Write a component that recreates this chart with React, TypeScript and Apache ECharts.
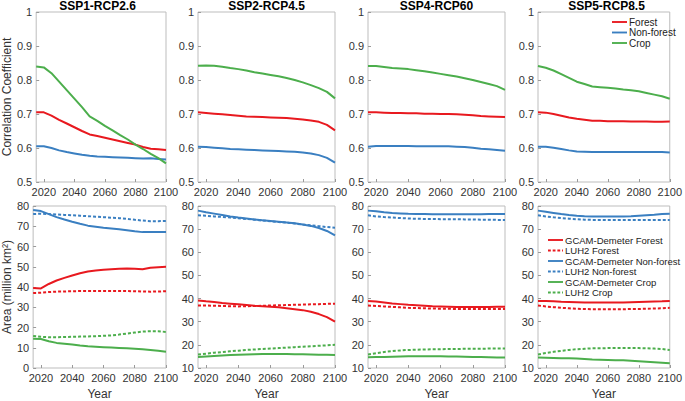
import React, { useEffect, useRef } from "react";
import * as echarts from "echarts";

const years = [2015, 2020, 2025, 2030, 2035, 2040, 2045, 2050, 2055, 2060, 2065, 2070, 2075, 2080, 2085, 2090, 2095, 2100];
const scenarios = ["SSP1-RCP2.6", "SSP2-RCP4.5", "SSP4-RCP60", "SSP5-RCP8.5"];
const corrNames = ["Forest", "Non-forest", "Crop"];
const areaNames = ["GCAM-Demeter Forest", "LUH2 Forest", "GCAM-Demeter Non-forest", "LUH2 Non-forest", "GCAM-Demeter Crop", "LUH2 Crop"];
const xTicks = [2020, 2040, 2060, 2080, 2100];

// Correlation coefficients [scenario][forest, non-forest, crop]
const corrSSP1 = [
  [0.705, 0.705, 0.695, 0.683, 0.672, 0.661, 0.65, 0.64, 0.635, 0.63, 0.625, 0.62, 0.615, 0.61, 0.603, 0.598, 0.596, 0.594],
  [0.605, 0.605, 0.6, 0.593, 0.588, 0.584, 0.58, 0.577, 0.575, 0.574, 0.573, 0.572, 0.571, 0.57, 0.569, 0.57, 0.568, 0.566],
  [0.84, 0.837, 0.82, 0.795, 0.77, 0.745, 0.72, 0.693, 0.68, 0.665, 0.652, 0.638, 0.625, 0.61, 0.597, 0.583, 0.57, 0.555],
];
const corrSSP2 = [
  [0.705, 0.703, 0.701, 0.699, 0.697, 0.695, 0.693, 0.692, 0.691, 0.69, 0.689, 0.688, 0.686, 0.684, 0.681, 0.677, 0.668, 0.652],
  [0.604, 0.603, 0.601, 0.599, 0.597, 0.596, 0.595, 0.594, 0.593, 0.592, 0.591, 0.59, 0.589, 0.587, 0.584, 0.579, 0.571, 0.557],
  [0.842, 0.843, 0.842, 0.839, 0.835, 0.832, 0.828, 0.823, 0.819, 0.815, 0.811, 0.806, 0.8, 0.793, 0.785, 0.776, 0.765, 0.746],
];
const corrSSP4 = [
  [0.705, 0.705, 0.704, 0.703, 0.703, 0.702, 0.702, 0.701, 0.701, 0.7, 0.7, 0.699, 0.698, 0.696, 0.694, 0.693, 0.692, 0.691],
  [0.604, 0.606, 0.606, 0.606, 0.606, 0.606, 0.605, 0.605, 0.605, 0.605, 0.605, 0.604, 0.603, 0.601, 0.598, 0.596, 0.594, 0.592],
  [0.841, 0.841, 0.838, 0.835, 0.834, 0.832, 0.829, 0.826, 0.822, 0.818, 0.814, 0.81, 0.805, 0.8, 0.794, 0.788, 0.782, 0.771],
];
const corrSSP5 = [
  [0.705, 0.704, 0.7, 0.695, 0.69, 0.686, 0.683, 0.68, 0.68, 0.679, 0.679, 0.679, 0.678, 0.678, 0.678, 0.677, 0.677, 0.678],
  [0.604, 0.604, 0.601, 0.597, 0.593, 0.59, 0.589, 0.588, 0.588, 0.588, 0.588, 0.588, 0.588, 0.588, 0.588, 0.588, 0.588, 0.587],
  [0.841, 0.836, 0.828, 0.817, 0.806, 0.795, 0.788, 0.781, 0.779, 0.777, 0.775, 0.772, 0.77, 0.767, 0.762, 0.757, 0.752, 0.745],
];

// Areas (million km2) [GCAM forest, LUH2 forest, GCAM non-forest, LUH2 non-forest, GCAM crop, LUH2 crop]
const areaSSP1 = [
  [39.5, 39.3, 41.5, 43.2, 44.5, 45.7, 46.8, 47.7, 48.2, 48.5, 48.8, 49, 49.1, 49, 48.8, 49.5, 49.8, 50],
  [37, 37.2, 37.5, 37.7, 37.8, 37.9, 38, 38, 38, 38, 38, 38, 38, 37.9, 37.8, 37.7, 37.8, 37.9],
  [78, 77.5, 76, 74.5, 73.3, 72.2, 71.2, 70.3, 69.8, 69.3, 68.9, 68.5, 68, 67.5, 67.1, 67.2, 67.2, 67.2],
  [76, 76.2, 76, 75.8, 75.6, 75.4, 75.2, 75, 74.7, 74.5, 74.2, 74, 73.6, 73.2, 72.8, 72.5, 72.5, 72.6],
  [14.5, 14.3, 13.2, 12.4, 12, 11.6, 11.1, 10.7, 10.5, 10.3, 10.1, 9.9, 9.7, 9.5, 9.2, 8.9, 8.5, 8.0],
  [15.8, 15.4, 15.2, 15.2, 15.3, 15.4, 15.5, 15.6, 15.7, 15.9, 16.1, 16.5, 17, 17.5, 18, 18.2, 18.2, 17.8],
];
const areaSSP2 = [
  [39.2, 38.8, 38.5, 38.1, 37.8, 37.5, 37.2, 36.9, 36.7, 36.5, 36.2, 35.8, 35.4, 35, 34.3, 33.3, 32, 30],
  [37, 37, 36.9, 36.8, 36.7, 36.6, 36.7, 36.8, 36.9, 37, 37.1, 37.2, 37.3, 37.4, 37.5, 37.6, 37.7, 37.8],
  [78, 77.3, 76.7, 76.1, 75.5, 75, 74.6, 74.2, 73.8, 73.5, 73.2, 72.9, 72.5, 72, 71.4, 70.5, 69.2, 67.3],
  [76, 75.8, 75.5, 75.3, 75, 74.7, 74.4, 74.1, 73.7, 73.4, 73.1, 72.8, 72.4, 72, 71.7, 71.3, 70.9, 70.6],
  [14.8, 15, 15.2, 15.4, 15.6, 15.7, 15.8, 15.9, 16, 16, 16, 16, 15.9, 15.9, 15.8, 15.7, 15.7, 15.6],
  [15.8, 16.2, 16.6, 16.9, 17.2, 17.5, 17.8, 18, 18.2, 18.4, 18.6, 18.8, 19, 19.2, 19.4, 19.6, 19.8, 20],
];
const areaSSP4 = [
  [39, 38.7, 38.3, 37.9, 37.6, 37.3, 37.1, 36.9, 36.7, 36.6, 36.5, 36.4, 36.4, 36.4, 36.4, 36.4, 36.5, 36.5],
  [37, 36.8, 36.6, 36.4, 36.2, 36, 35.9, 35.8, 35.7, 35.6, 35.6, 35.5, 35.5, 35.5, 35.5, 35.5, 35.5, 35.5],
  [78, 77.7, 77.3, 77, 76.8, 76.6, 76.5, 76.5, 76.4, 76.4, 76.4, 76.4, 76.4, 76.4, 76.4, 76.5, 76.5, 76.5],
  [76, 75.5, 75.2, 75, 74.8, 74.6, 74.5, 74.4, 74.4, 74.3, 74.3, 74.3, 74.2, 74.2, 74.1, 74.1, 74, 74],
  [14.6, 14.7, 14.8, 14.9, 15, 15.1, 15.1, 15.1, 15.1, 15.1, 15, 15, 14.9, 14.8, 14.7, 14.6, 14.5, 14.5],
  [15.8, 16.4, 16.9, 17.3, 17.6, 17.8, 17.9, 18, 18.1, 18.1, 18.2, 18.2, 18.3, 18.3, 18.3, 18.4, 18.4, 18.4],
];
const areaSSP5 = [
  [39, 38.9, 38.8, 38.6, 38.5, 38.4, 38.3, 38.3, 38.3, 38.3, 38.3, 38.3, 38.4, 38.5, 38.6, 38.7, 38.8, 39],
  [37, 36.6, 36.3, 36, 35.8, 35.6, 35.5, 35.4, 35.4, 35.4, 35.4, 35.4, 35.5, 35.5, 35.6, 35.7, 35.8, 36],
  [78, 77.5, 77, 76.5, 76.1, 75.8, 75.6, 75.5, 75.5, 75.5, 75.5, 75.5, 75.6, 75.8, 76, 76.2, 76.5, 76.7],
  [76, 75.5, 75.1, 74.8, 74.5, 74.3, 74.1, 74, 74, 73.9, 73.9, 73.9, 73.9, 73.9, 73.9, 74, 74, 74],
  [14.5, 14.4, 14.3, 14.2, 14.2, 14.1, 13.9, 13.7, 13.6, 13.5, 13.4, 13.3, 13.1, 12.9, 12.7, 12.5, 12.3, 12.1],
  [15.8, 16.5, 17, 17.4, 17.8, 18.1, 18.3, 18.5, 18.5, 18.6, 18.6, 18.6, 18.6, 18.6, 18.5, 18.4, 18.2, 17.8],
];

const corrData = [corrSSP1, corrSSP2, corrSSP4, corrSSP5];
const areaData = [areaSSP1, areaSSP2, areaSSP4, areaSSP5];
const areaMins = [0, 10, 10, 10];

const RED = "#e8191f";
const BLUE = "#3a7fc1";
const GREEN = "#4cae4c";
const corrColors = [RED, BLUE, GREEN];
const areaColors = [RED, RED, BLUE, BLUE, GREEN, GREEN];
const FONT = "'Liberation Sans', Arial, Helvetica, sans-serif";

const colLefts = [29, 198, 368, 538];
const colWidth = 137;

const SOLID_ICON = "path://M0,0h16v2h-16z";
const DOTTED_ICON = "path://M0,0h3v2h-3z M5,0h3v2h-3z M10,0h3v2h-3z M15,0h1v2h-1z";

export default function App() {
  const ref = useRef<HTMLDivElement>(null);
  useEffect(() => {
    if (!ref.current) return;
    const chart = echarts.init(ref.current, null, { renderer: "svg" });
    const grids: any[] = [];
    const xAxes: any[] = [];
    const yAxes: any[] = [];
    const series: any[] = [];
    const graphics: any[] = [];
    const labelColor = "#333333";
    const axisCommon = {
      axisLine: { show: false },
      splitLine: { show: false },
    };
    for (let row = 0; row < 2; row++) {
      for (let col = 0; col < 4; col++) {
        const gi = row * 4 + col;
        grids.push({
          left: colLefts[col],
          width: colWidth,
          top: row === 0 ? 12 : 206,
          height: row === 0 ? 170 : 169,
          show: true,
          borderColor: "#bdbdbd",
          borderWidth: 1,
          backgroundColor: "transparent",
        });
        xAxes.push({
          ...axisCommon,
          type: "value",
          gridIndex: gi,
          min: 2015,
          max: 2100,
          axisTick: { show: true, inside: true, length: 3, customValues: xTicks, lineStyle: { color: "#9a9a9a" } },
          axisLabel: {
            customValues: xTicks,
            color: labelColor,
            fontSize: 11,
            fontFamily: FONT,
            margin: 4,
            formatter: (v: number) => String(Math.round(v)),
          },
          name: row === 1 ? "Year" : "",
          nameLocation: "middle",
          nameGap: 20,
          nameTextStyle: { color: labelColor, fontSize: 12, fontFamily: FONT },
        });
        const yMin = row === 0 ? 0.5 : areaMins[col];
        yAxes.push({
          ...axisCommon,
          type: "value",
          gridIndex: gi,
          min: yMin,
          max: row === 0 ? 1 : 80,
          interval: row === 0 ? 0.1 : 10,
          axisTick: { show: true, inside: true, length: 3, lineStyle: { color: "#9a9a9a" } },
          axisLabel: {
            color: labelColor,
            fontSize: 11,
            fontFamily: FONT,
            margin: 4,
            formatter: (v: number) => (row === 0 ? String(+v.toFixed(1)) : String(Math.round(v))),
          },
          name: col === 0 ? (row === 0 ? "Correlation Coefficient" : "Area (million km²)") : "",
          nameLocation: "middle",
          nameGap: row === 0 ? 20 : 17,
          nameTextStyle: { color: labelColor, fontSize: 12, fontFamily: FONT },
        });
        if (row === 0) {
          corrData[col].forEach((vals, k) => {
            series.push({
              type: "line",
              name: corrNames[k],
              xAxisIndex: gi,
              yAxisIndex: gi,
              symbol: "none",
              data: years.map((y, i) => [y, vals[i]]),
              lineStyle: { color: corrColors[k], width: 2 },
              itemStyle: { color: corrColors[k] },
            });
          });
          graphics.push({
            type: "text",
            x: colLefts[col] + colWidth / 2,
            y: 0,
            style: { text: scenarios[col], textAlign: "center", font: `bold 12px ${FONT}`, fill: "#000" },
          });
        } else {
          areaData[col].forEach((vals, k) => {
            const dotted = k % 2 === 1;
            series.push({
              type: "line",
              name: areaNames[k],
              xAxisIndex: gi,
              yAxisIndex: gi,
              symbol: "none",
              data: years.map((y, i) => [y, vals[i]]),
              lineStyle: { color: areaColors[k], width: 2, type: dotted ? [3, 2] : "solid" },
              itemStyle: { color: areaColors[k] },
            });
          });
        }
      }
    }
    const legendCommon = {
      orient: "vertical",
      itemWidth: 15,
      itemHeight: 2,
      itemGap: 0.5,
      textStyle: { fontSize: 9.5, lineHeight: 10, fontFamily: FONT, color: "#222", padding: [0, 0, 0, -3] },
      padding: 0,
    };
    chart.setOption({
      animation: false,
      backgroundColor: "#fff",
      grid: grids,
      xAxis: xAxes,
      yAxis: yAxes,
      series,
      graphic: graphics,
      legend: [
        {
          ...legendCommon,
          textStyle: { ...legendCommon.textStyle, fontSize: 10 },
          data: corrNames.map((n) => ({ name: n, icon: SOLID_ICON })),
          left: 612,
          top: 17,
        },
        {
          ...legendCommon,
          data: areaNames.map((n, k) => ({ name: n, icon: k % 2 === 1 ? DOTTED_ICON : SOLID_ICON })),
          left: 548,
          top: 235,
          width: 135,
        },
      ],
    });
    return () => chart.dispose();
  }, []);
  return <div ref={ref} style={{ position: "fixed", left: 0, top: 0, width: 685, height: 401 }} />;
}
